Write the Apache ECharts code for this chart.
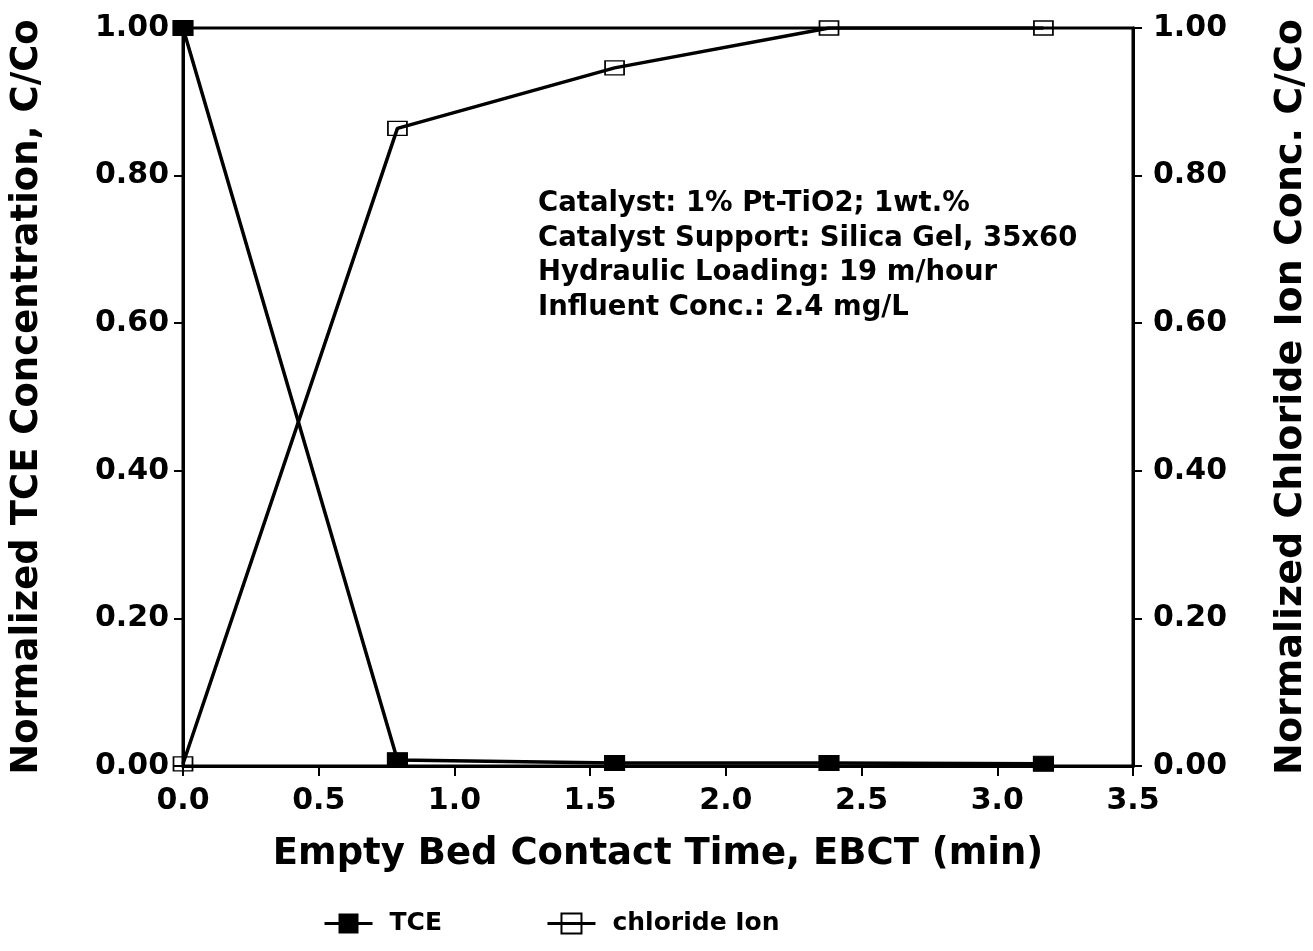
<!DOCTYPE html>
<html>
<head>
<meta charset="utf-8">
<script src="https://cdn.jsdelivr.net/npm/echarts@6/dist/echarts.min.js"></script>
<style>html,body{margin:0;padding:0;background:#fff}#c{width:1313px;height:951px}</style>
</head>
<body>
<div id="c"></div>
<script>
const ebct = [0, 0.79, 1.59, 2.38, 3.17];
const tce = [1.0, 0.008, 0.004, 0.004, 0.003];
const chloride = [0.003, 0.864, 0.946, 1.0, 1.0];
const yTicks = [0, 0.2, 0.4, 0.6, 0.8, 1.0];
const xTicks = [0, 0.5, 1.0, 1.5, 2.0, 2.5, 3.0, 3.5];
const noteLines = [
  'Catalyst: 1% Pt-TiO2; 1wt.%',
  'Catalyst Support: Silica Gel, 35x60',
  'Hydraulic Loading: 19 m/hour',
  'Influent Conc.: 2.4 mg/L'
];

const F = '"DejaVu Sans", "Liberation Sans", Arial, sans-serif';
const chart = echarts.init(document.getElementById('c'));
function yAxis(pos, name, nameSize, gap, margin) {
  return {
    type: 'value', min: 0, max: 1, interval: 0.2, position: pos,
    name: name, nameLocation: 'middle', nameRotate: 90, nameGap: gap,
    nameTextStyle: { fontFamily: F, fontWeight: 'bold', fontSize: nameSize, color: '#000' },
    axisLine: { show: true, lineStyle: { color: '#000', width: 3 } },
    axisTick: { show: true, inside: false, length: 9, lineStyle: { color: '#000', width: 2 } },
    axisLabel: { fontFamily: F, fontWeight: 'bold', fontSize: 30, color: '#000', margin: margin,
      formatter: v => v.toFixed(2) },
    splitLine: { show: false }
  };
}
chart.setOption({
  animation: false,
  backgroundColor: '#fff',
  grid: { left: 183, right: 180, top: 28, bottom: 185, outerBoundsMode: 'none', containLabel: false,
    show: true, borderColor: '#000', borderWidth: 3, backgroundColor: 'transparent' },
  xAxis: {
    type: 'value', min: 0, max: 3.5, interval: 0.5,
    name: 'Empty Bed Contact Time, EBCT (min)', nameLocation: 'middle', nameGap: 70,
    nameTextStyle: { fontFamily: F, fontWeight: 'bold', fontSize: 37, color: '#000' },
    axisLine: { show: true, onZero: false, lineStyle: { color: '#000', width: 3 } },
    axisTick: { show: true, length: 10, lineStyle: { color: '#000', width: 2 } },
    axisLabel: { fontFamily: F, fontWeight: 'bold', fontSize: 30, color: '#000', margin: 20,
      formatter: v => v.toFixed(1) },
    splitLine: { show: false }
  },
  yAxis: [
    yAxis('left', 'Normalized TCE Concentration, C/Co', 37, 137, 14),
    yAxis('right', 'Normalized Chloride Ion Conc. C/Co', 38, 139, 20)
  ],
  legend: {
    top: 906, left: 318, itemGap: 104, itemWidth: 48, itemHeight: 25,
    lineStyle: { width: 3 },
    textStyle: { fontFamily: F, fontWeight: 'bold', fontSize: 25, color: '#000', padding: [0, 0, 0, 12] },
    data: ['TCE', 'chloride Ion']
  },
  graphic: [{
    type: 'text', left: 538, top: 187,
    style: { text: noteLines.join('\n'), fontFamily: F, fontWeight: 'bold', fontSize: 27.5, lineHeight: 34.5, fill: '#000' }
  }],
  series: [
    {
      name: 'TCE', type: 'line', yAxisIndex: 0,
      data: ebct.map((x, i) => [x, tce[i]]),
      symbol: 'rect', symbolSize: [20, 15],
      itemStyle: { color: '#000', borderColor: '#000' },
      lineStyle: { color: '#000', width: 3.5 }
    },
    {
      name: 'chloride Ion', type: 'line', yAxisIndex: 1,
      data: ebct.map((x, i) => [x, chloride[i]]),
      symbol: 'rect', symbolSize: [19, 14],
      itemStyle: { color: 'rgba(255,255,255,0)', borderColor: '#000', borderWidth: 1.5 },
      lineStyle: { color: '#000', width: 3.5 }
    }
  ]
});
</script>
</body>
</html>
